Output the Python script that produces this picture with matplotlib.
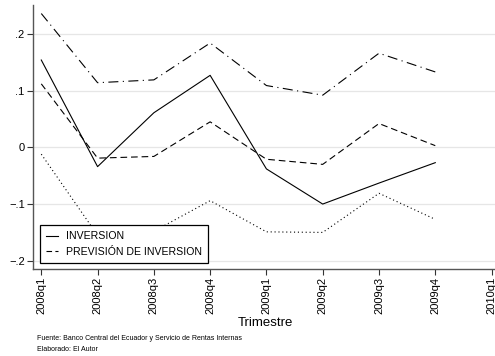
import matplotlib
matplotlib.use('Agg')
import matplotlib.pyplot as plt
from matplotlib.lines import Line2D

plt.rcParams['font.family'] = ['Liberation Sans', 'DejaVu Sans']

trimestres = ['2008q1', '2008q2', '2008q3', '2008q4',
              '2009q1', '2009q2', '2009q3', '2009q4', '2010q1']
inversion = [0.154, -0.034, 0.061, 0.127, -0.038, -0.100, -0.063, -0.027]
prevision = [0.112, -0.019, -0.016, 0.045, -0.021, -0.030, 0.042, 0.003]
banda_sup = [0.236, 0.114, 0.119, 0.184, 0.109, 0.092, 0.166, 0.133]
banda_inf = [-0.012, -0.155, -0.148, -0.094, -0.149, -0.150, -0.081, -0.127]
yticks = [-0.2, -0.1, 0, 0.1, 0.2]
ylabels = ['\u2212.2', '\u2212.1', '0', '.1', '.2']

fig = plt.figure(figsize=(4.95, 3.56), dpi=100)
ax = fig.add_axes([0.0667, 0.2452, 0.94, 0.7407])

x = list(range(len(inversion)))
lw = 0.8
ax.plot(x, banda_sup, color='black', lw=lw, dashes=(9, 4, 1, 4))
ax.plot(x, banda_inf, color='black', lw=lw, dashes=(1, 2.5))
ax.plot(x, prevision, color='black', lw=lw, dashes=(6, 3.5))
ax.plot(x, inversion, color='black', lw=lw)

ax.set_xlim(-0.147, 8.12)
ax.set_ylim(-0.214, 0.251)
ax.set_yticks(yticks)
ax.set_yticklabels(ylabels, fontsize=8)
ax.set_xticks(range(len(trimestres)))
ax.set_xticklabels(trimestres, rotation=90, fontsize=8)
ax.grid(axis='y', color='#e6e6e6', lw=0.9)
ax.set_axisbelow(True)
for s in ['top', 'right']:
    ax.spines[s].set_visible(False)
for s in ['left', 'bottom']:
    ax.spines[s].set_color('#555555')
    ax.spines[s].set_linewidth(1.0)
ax.tick_params(length=4, width=0.8, color='#333333', pad=2)
ax.set_xlabel('Trimestre', fontsize=9.5, labelpad=2)

handles = [Line2D([], [], color='black', lw=lw),
           Line2D([], [], color='black', lw=lw, dashes=(5, 3))]
leg = ax.legend(handles, ['INVERSION', 'PREVISIÓN DE INVERSION'],
                loc='lower left', bbox_to_anchor=(0.003, 0.0),
                fontsize=7.6, fancybox=False, edgecolor='black',
                framealpha=1, handlelength=1.1, borderpad=0.6,
                labelspacing=0.55, handletextpad=0.75)
leg.get_frame().set_linewidth(0.9)

fig.text(0.075, 0.05, 'Fuente: Banco Central del Ecuador y Servicio de Rentas Internas',
         fontsize=5, ha='left', va='center')
fig.text(0.075, 0.017, 'Elaborado: El Autor', fontsize=5, ha='left', va='center')

fig.savefig('out.png', dpi=100)
